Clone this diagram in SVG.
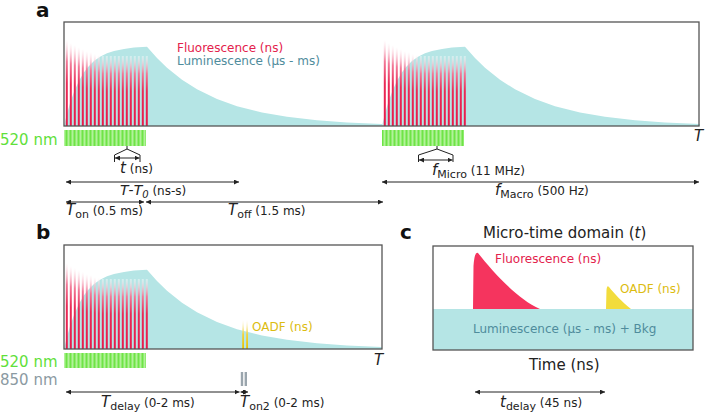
<svg xmlns="http://www.w3.org/2000/svg" xmlns:xlink="http://www.w3.org/1999/xlink" width="707" height="414" viewBox="0 0 707 414">
<style>
text{font-family:"DejaVu Sans","Liberation Sans",sans-serif;fill:#222}
.box{fill:none;stroke:#555;stroke-width:1.3}
.ttl{font-weight:bold;font-size:20px;fill:#111}
.lbl{font-size:12px}
.it{font-style:italic}
.red{fill:#e3214c}
.teal{fill:#4f8c9c}
.yel{fill:#dcbc10}
.grn{fill:#5fe03a;font-size:15px}
.gry{fill:#8b9aa2;font-size:15px}
.arr{stroke:#222;stroke-width:1;fill:none}
.br{stroke:#222;stroke-width:1;fill:none}
.cy{fill:#b5e5e5}
</style>
<defs>
<linearGradient id="rg" x1="0" y1="0" x2="0" y2="1">
<stop offset="0" stop-color="#ffffff" stop-opacity="0.4"/>
<stop offset="0.25" stop-color="#f27a98"/>
<stop offset="0.5" stop-color="#ea2a56"/>
<stop offset="1" stop-color="#e8194b"/>
</linearGradient>
<linearGradient id="yg" x1="0" y1="0" x2="0" y2="1">
<stop offset="0" stop-color="#ffffff" stop-opacity="0.3"/>
<stop offset="0.5" stop-color="#f0d440"/>
<stop offset="1" stop-color="#e6c200"/>
</linearGradient>
<pattern id="gp" x="64" y="0" width="4" height="20" patternUnits="userSpaceOnUse">
<rect x="0" y="0" width="4" height="20" fill="#b2f29a"/>
<rect x="1.5" y="0" width="2" height="20" fill="#6ee446"/>
</pattern>
<marker id="ah" viewBox="0 0 6 6" refX="6" refY="3" markerWidth="5" markerHeight="5" orient="auto-start-reverse" markerUnits="userSpaceOnUse">
<path d="M0,0 L6,3 L0,6 z" fill="#222"/>
</marker>
<path id="lum" class="cy" d="M64,126 L67,113.7 L70,103.3 L74,91.9 L79,80.8 L84,72.3 L89,66 L94,61.1 L100,56.8 L107,53.3 L114,51 L124,48.9 L134,47.6 L147,46.8 L157,58.1 L167,67.8 L182,79.8 L197,89.3 L217,99 L237,106.2 L262,112.5 L287,116.8 L317,120.2 L347,122.4 L382,124 L382,126 Z"/>
<g id="bars" fill="url(#rg)">
<rect x="65.8" y="40" width="2" height="86"/>
<rect x="69.8" y="43" width="2" height="83"/>
<rect x="73.8" y="45" width="2" height="81"/>
<rect x="77.8" y="47" width="2" height="79"/>
<rect x="81.8" y="49" width="2" height="77"/>
<rect x="85.8" y="51" width="2" height="75"/>
<rect x="89.8" y="52" width="2" height="74"/>
<rect x="93.8" y="54" width="2" height="72"/>
<rect x="97.8" y="55" width="2" height="71"/>
<rect x="101.8" y="56" width="2" height="70"/>
<rect x="105.8" y="56" width="2" height="70"/>
<rect x="109.8" y="56" width="2" height="70"/>
<rect x="113.8" y="56" width="2" height="70"/>
<rect x="117.8" y="56" width="2" height="70"/>
<rect x="121.8" y="56" width="2" height="70"/>
<rect x="125.8" y="56" width="2" height="70"/>
<rect x="129.8" y="56" width="2" height="70"/>
<rect x="133.8" y="56" width="2" height="70"/>
<rect x="137.8" y="56" width="2" height="70"/>
<rect x="141.8" y="56" width="2" height="70"/>
<rect x="145.8" y="56" width="2" height="70"/>
</g>
</defs>

<!-- Panel a -->
<g id="panel-a">
<text class="ttl" x="36" y="17">a</text>
<use xlink:href="#lum"/>
<use xlink:href="#lum" transform="translate(318,0)"/>
<use xlink:href="#bars"/>
<use xlink:href="#bars" transform="translate(318,0)"/>
<rect class="box" x="64" y="22" width="635" height="104"/>
<text class="lbl red" x="177" y="52">Fluorescence (ns)</text>
<text class="lbl teal" x="177" y="65">Luminescence (µs - ms)</text>
<text class="it" x="694" y="141" font-size="15">T</text>
</g>
<g id="laser-a">
<text class="grn" x="0" y="145">520 nm</text>
<rect x="64" y="130" width="82" height="16" fill="url(#gp)"/>
<rect x="382" y="130" width="82" height="16" fill="url(#gp)"/>
</g>
<g id="label-t">
<text x="120" y="173"><tspan class="it" font-size="15">t</tspan><tspan font-size="12"> (ns)</tspan></text>
</g>
<g id="label-TT0">
<text x="120" y="195"><tspan class="it" font-size="14">T</tspan><tspan font-size="14">-</tspan><tspan class="it" font-size="14">T</tspan><tspan class="it" font-size="10" dy="3">0</tspan><tspan font-size="12" dy="-3"> (ns-s)</tspan></text>
</g>
<g id="label-Ton">
<text x="66" y="215"><tspan class="it" font-size="15">T</tspan><tspan font-size="11" dy="3">on</tspan><tspan font-size="12" dy="-3"> (0.5 ms)</tspan></text>
</g>
<g id="label-Toff">
<text x="228" y="215"><tspan class="it" font-size="15">T</tspan><tspan font-size="11" dy="3">off</tspan><tspan font-size="12" dy="-3"> (1.5 ms)</tspan></text>
</g>
<g id="label-fMicro">
<text x="432" y="175"><tspan class="it" font-size="15">f</tspan><tspan font-size="11" dy="3">Micro</tspan><tspan font-size="12" dy="-3"> (11 MHz)</tspan></text>
</g>
<g id="label-fMacro">
<text x="495" y="195"><tspan class="it" font-size="15">f</tspan><tspan font-size="11" dy="3">Macro</tspan><tspan font-size="12" dy="-3"> (500 Hz)</tspan></text>
</g>

<!-- Panel b -->
<g id="panel-b">
<text class="ttl" x="36" y="239">b</text>
<use xlink:href="#lum" transform="translate(0,223)"/>
<use xlink:href="#bars" transform="translate(0,223)"/>
<rect x="242.2" y="320" width="1.8" height="29" fill="url(#yg)"/>
<rect x="246.2" y="320" width="1.8" height="29" fill="url(#yg)"/>
<rect class="box" x="64" y="245" width="318" height="104"/>
<text class="lbl yel" x="252" y="331">OADF (ns)</text>
<text class="it" x="374" y="365" font-size="15">T</text>
</g>
<g id="laser-b">
<text class="grn" x="0" y="367">520 nm</text>
<rect x="64" y="353" width="82" height="15" fill="url(#gp)"/>
<text class="gry" x="0" y="385">850 nm</text>
<rect x="240.8" y="372" width="2.4" height="14" fill="#9aa5ad"/>
<rect x="244.6" y="372" width="2.4" height="14" fill="#9aa5ad"/>
</g>
<g id="label-Tdelay">
<text x="101" y="407"><tspan class="it" font-size="15">T</tspan><tspan font-size="11" dy="3">delay</tspan><tspan font-size="12" dy="-3"> (0-2 ms)</tspan></text>
</g>
<g id="label-Ton2">
<text x="240" y="407"><tspan class="it" font-size="15">T</tspan><tspan font-size="11" dy="3">on2</tspan><tspan font-size="12" dy="-3"> (0-2 ms)</tspan></text>
</g>

<!-- Panel c -->
<g id="panel-c">
<text class="ttl" x="400" y="239">c</text>
<text x="483" y="238" font-size="15">Micro-time domain (<tspan class="it">t</tspan>)</text>
<rect x="433" y="309" width="260" height="41" class="cy"/>
<path d="M473,309 L473.5,266 Q474.5,251 478,253 C490,268 515,298 540,309 Z" fill="#f5345e"/>
<path d="M606,309 L606.5,290 Q607,284.5 609,287 C614,293 622,302 631,309 Z" fill="#f2dc3c"/>
<rect class="box" x="433" y="246" width="260" height="104"/>
<text class="lbl red" x="495" y="263">Fluorescence (ns)</text>
<text class="lbl yel" x="620" y="293">OADF (ns)</text>
<text class="lbl teal" x="473" y="333">Luminescence (µs - ms) + Bkg</text>
<text x="529" y="370" font-size="15">Time (ns)</text>
</g>
<g id="label-tdelay">
<text x="500" y="407"><tspan class="it" font-size="15">t</tspan><tspan font-size="11" dy="3">delay</tspan><tspan font-size="12" dy="-3"> (45 ns)</tspan></text>
</g>

<!-- Connectors -->
<g id="connectors">
<path class="br" d="M127,146 L127,149 L114.5,155 L114.5,162 M127,149 L140,155 L140,162"/>
<line class="arr" x1="115" y1="158" x2="139.5" y2="158" marker-start="url(#ah)" marker-end="url(#ah)"/>
<path class="br" d="M437,146 L437,149 L418.5,155 L418.5,162 M437,149 L453,155 L453,162"/>
<line class="arr" x1="419" y1="160" x2="452.5" y2="160" marker-start="url(#ah)" marker-end="url(#ah)"/>
<line class="arr" x1="66" y1="182" x2="239" y2="182" marker-start="url(#ah)" marker-end="url(#ah)"/>
<line class="arr" x1="382" y1="182" x2="699" y2="182" marker-start="url(#ah)" marker-end="url(#ah)"/>
<line class="arr" x1="66" y1="202" x2="144" y2="202" marker-start="url(#ah)" marker-end="url(#ah)"/>
<line class="arr" x1="146" y1="202" x2="383" y2="202" marker-start="url(#ah)" marker-end="url(#ah)"/>
<line class="arr" x1="66" y1="392" x2="239.5" y2="392" marker-start="url(#ah)" marker-end="url(#ah)"/>
<line class="arr" x1="240.5" y1="392" x2="248" y2="392" marker-start="url(#ah)" marker-end="url(#ah)"/>
<line class="arr" x1="475" y1="392" x2="605" y2="392" marker-start="url(#ah)" marker-end="url(#ah)"/>
</g>
</svg>
